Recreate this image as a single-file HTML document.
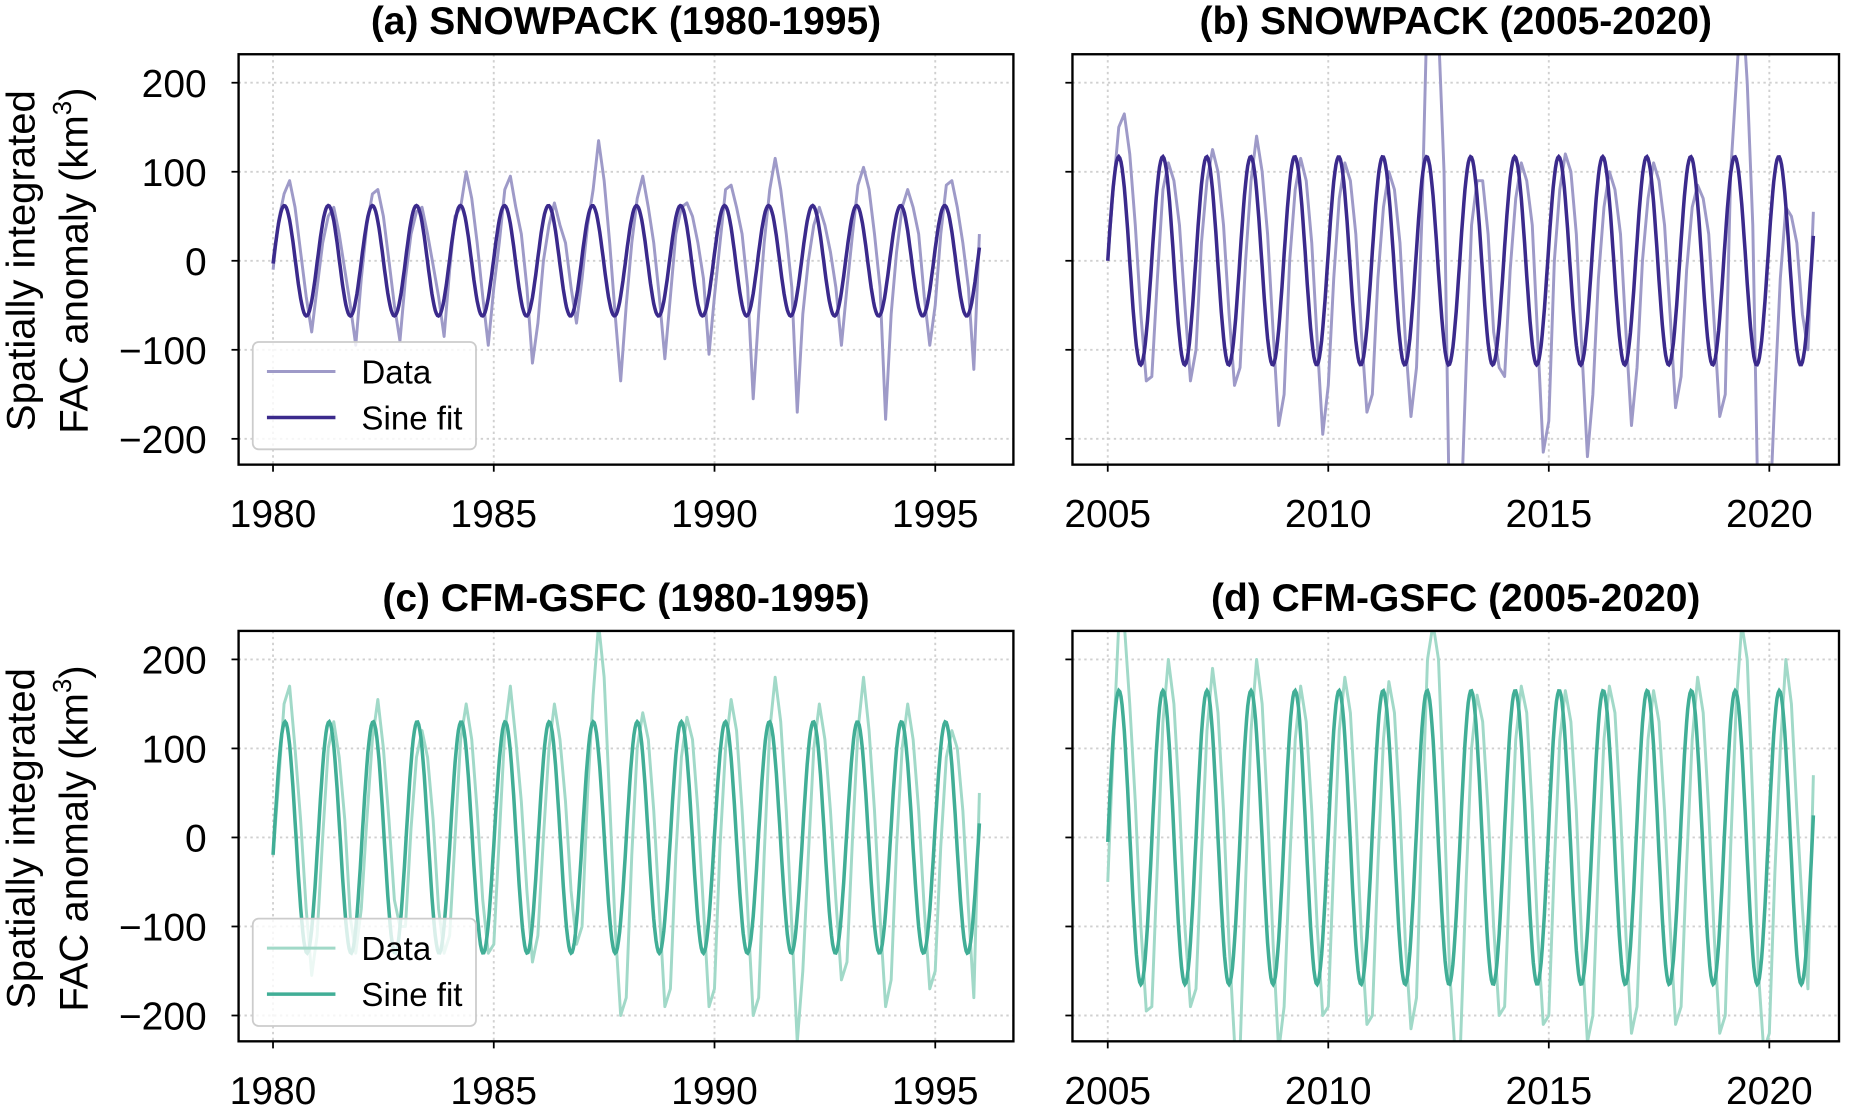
<!DOCTYPE html>
<html><head><meta charset="utf-8"><style>
html,body{margin:0;padding:0;background:#fff}
svg{display:block;font-family:"Liberation Sans",sans-serif}
</style></head><body>
<svg id="fig" width="1852" height="1105" viewBox="0 0 1568 937" preserveAspectRatio="none" xmlns="http://www.w3.org/2000/svg">
<g transform="translate(0,221) rotate(-90)"><text x="0" y="29" text-anchor="middle" font-size="34">Spatially integrated</text><text x="0" y="74" text-anchor="middle" font-size="34">FAC anomaly (km<tspan font-size="22" dy="-14">3</tspan><tspan dy="14">)</tspan></text></g>
<g transform="translate(0,711) rotate(-90)"><text x="0" y="29" text-anchor="middle" font-size="34">Spatially integrated</text><text x="0" y="74" text-anchor="middle" font-size="34">FAC anomaly (km<tspan font-size="22" dy="-14">3</tspan><tspan dy="14">)</tspan></text></g>
</svg>
<script>
const yTicks=[-200,-100,0,100,200];
const xTicksA=[1980,1985,1990,1995];
const xTicksB=[2005,2010,2015,2020];
const titles=["(a) SNOWPACK (1980-1995)","(b) SNOWPACK (2005-2020)","(c) CFM-GSFC (1980-1995)","(d) CFM-GSFC (2005-2020)"];
const startYears=[1980,2005,1980,2005];
const samplesPerYear=8;
const dataA=[-10,45,75,90,60,10,-40,-80, -30,20,50,60,30,-10,-50,-95, -20,40,75,80,50,0,-50,-90, -20,30,55,60,30,-5,-40,-85, -10,50,60,100,70,20,-40,-95, -30,20,80,95,60,30,-30,-115, -70,0,40,65,40,20,-30,-70, -20,40,80,135,90,20,-60,-135, -50,20,70,95,60,20,-40,-110, -40,30,60,65,50,20,-20,-105, -40,20,80,85,60,30,-30,-155, -60,20,80,115,80,30,-30,-170, -60,0,40,60,40,10,-30,-95, -30,30,85,105,80,30,-30,-178, -60,10,60,80,60,30,-40,-95, -50,30,85,90,60,20,-30,-122, 30];
const dataB=[0,80,150,165,120,40,-60,-135, -130,-20,80,110,90,40,-50,-135, -100,20,90,125,100,40,-60,-140, -120,0,90,140,100,30,-80,-185, -150,0,80,115,90,20,-90,-195, -140,-20,70,110,90,30,-80,-170, -150,-20,60,100,80,20,-90,-175, -120,50,300,300,260,100,-300,-300, -300,-120,40,90,90,30,-80,-120, -130,-10,70,110,90,40,-90,-215, -180,0,80,120,100,30,-100,-220, -150,-20,60,100,80,30,-80,-185, -120,0,70,110,90,40,-60,-165, -130,-10,60,85,70,30,-70,-175, -150,100,200,300,200,40,-300,-300, -300,-150,-20,60,50,20,-60,-100, 55];
const dataC=[-20,60,150,170,100,20,-80,-155, -110,0,100,130,90,20,-90,-130, -80,20,110,155,100,20,-70,-100, -100,10,90,120,90,20,-80,-130, -110,0,110,150,110,30,-70,-130, -120,0,120,170,110,40,-60,-140, -110,0,100,150,110,40,-60,-120, -100,50,160,240,180,40,-100,-200, -180,-20,100,140,110,30,-80,-190, -170,-20,90,135,110,30,-80,-190, -170,-10,100,155,120,30,-80,-200, -180,-20,120,180,130,30,-100,-230, -150,-20,100,150,110,30,-70,-160, -140,0,120,180,120,30,-90,-190, -160,-10,100,150,110,30,-80,-170, -150,-10,90,120,100,30,-80,-180, 50];
const dataD=[-50,100,240,240,150,40,-100,-195, -190,-30,130,200,150,40,-100,-190, -170,-20,120,190,140,30,-120,-230, -240,-50,120,200,150,30,-120,-240, -190,-30,110,170,130,30,-100,-200, -190,-30,120,180,140,30,-110,-210, -200,-30,110,175,140,30,-120,-215, -180,20,200,240,200,40,-150,-240, -230,-50,100,160,130,30,-100,-200, -190,-30,110,170,140,30,-110,-210, -200,-30,110,165,130,30,-120,-230, -200,-30,110,170,140,30,-110,-220, -190,-30,110,165,130,30,-100,-210, -190,-30,110,180,140,30,-110,-220, -200,-10,150,240,200,40,-150,-240, -220,-40,100,200,150,30,-80,-170, 70];
const sineAmp=[62,117,130,165];
const sinePhase=[-0.05,0,-0.15,-0.03];
const sineFreq=[1.0029,1.0024,1.0027,1.0018];

const NS="http://www.w3.org/2000/svg";
const svg=document.getElementById('fig');
const allData=[dataA,dataB,dataC,dataD];
const boxes=[[202,46,858,394],[908,46,1557,394],[202,535,858,883],[908,535,1557,883]];
const xlims=[[1979.22,1996.77],[2004.2,2021.58],[1979.22,1996.77],[2004.2,2021.58]];
const ylim=[-229,232];
const dataCol=["#9e9ac8","#9e9ac8","#a1d9c8","#a1d9c8"];
const fitCol=["#3b2a8c","#3b2a8c","#41ae96","#41ae96"];
function mk(tag,attrs,parent){const e=document.createElementNS(NS,tag);for(const k in attrs)e.setAttribute(k,attrs[k]);(parent||svg).appendChild(e);return e;}
for(let p=0;p<4;p++){
  const [x0,y0,x1,y1]=boxes[p];
  const xs=t=>x0+(t-xlims[p][0])/(xlims[p][1]-xlims[p][0])*(x1-x0);
  const ys=v=>y1-(v-ylim[0])/(ylim[1]-ylim[0])*(y1-y0);
  const g=mk('g',{});
  
  
  const cp=mk('clipPath',{id:'clip'+p},g);mk('rect',{x:x0,y:y0,width:x1-x0,height:y1-y0},cp);
  const xt=p%2===0?xTicksA:xTicksB;
  yTicks.forEach(v=>{
    const gl=mk('line',{x1:x0,x2:x1,y1:ys(v),y2:ys(v),stroke:"#d0d0d0","stroke-width":1.6,"stroke-dasharray":"2,3"},g);
    
    
    mk('line',{x1:x0-6,x2:x0,y1:ys(v),y2:ys(v),stroke:"#000","stroke-width":1.5},g);
    if(p%2===0){const t=mk('text',{x:x0-27,y:ys(v)+12,"text-anchor":"end","font-size":33},g);t.textContent=(v<0?"\u2212"+(-v):v);
      
      }
  });
  xt.forEach(v=>{
    const gl=mk('line',{x1:xs(v),x2:xs(v),y1:y0,y2:y1,stroke:"#d0d0d0","stroke-width":1.6,"stroke-dasharray":"2,3"},g);
    
    
    mk('line',{x1:xs(v),x2:xs(v),y1:y1,y2:y1+6,stroke:"#000","stroke-width":1.5},g);
    const t=mk('text',{x:xs(v),y:y1+53,"text-anchor":"middle","font-size":33},g);t.textContent=v;
    
    
  });
  const d=allData[p];
  let pts=d.map((v,i)=>xs(startYears[p]+i/samplesPerYear).toFixed(1)+","+ys(v).toFixed(1)).join(" ");
  const dl=mk('polyline',{points:pts,fill:"none",stroke:dataCol[p],"stroke-width":2.5,"clip-path":"url(#clip"+p+")","stroke-linejoin":"round"},g);
  
  
  let sp=[];for(let i=0;i<=16*40;i++){const t=startYears[p]+i/40;sp.push(xs(t).toFixed(1)+","+ys(sineAmp[p]*Math.sin(2*Math.PI*sineFreq[p]*(t-startYears[p])+sinePhase[p])).toFixed(1));}
  const sl=mk('polyline',{points:sp.join(" "),fill:"none",stroke:fitCol[p],"stroke-width":3,"clip-path":"url(#clip"+p+")"},g);
  
  
  const fr=mk('rect',{x:x0,y:y0,width:x1-x0,height:y1-y0,fill:"none",stroke:"#000","stroke-width":2},g);
  
  
  const tt=mk('text',{x:(x0+x1)/2,y:y0-17,"text-anchor":"middle","font-size":33,"font-weight":"bold"},g);tt.textContent=titles[p];
  
  
  if(p%2===0){
    const lg=mk('g',{},g);
    
    
    const ly=y0+244;
    mk('rect',{x:214,y:ly,width:189,height:91,rx:5,fill:"rgba(255,255,255,0.8)",stroke:"#ccc","stroke-width":1.5},lg);
    mk('line',{x1:226,x2:284,y1:ly+25,y2:ly+25,stroke:dataCol[p],"stroke-width":2.5},lg);
    mk('line',{x1:226,x2:284,y1:ly+64,y2:ly+64,stroke:fitCol[p],"stroke-width":3},lg);
    const t1=mk('text',{x:306,y:ly+35,"font-size":28},lg);t1.textContent="Data";
    
    
    const t2=mk('text',{x:306,y:ly+74,"font-size":28},lg);t2.textContent="Sine fit";
    
    
  }
}
</script>
</body></html>
